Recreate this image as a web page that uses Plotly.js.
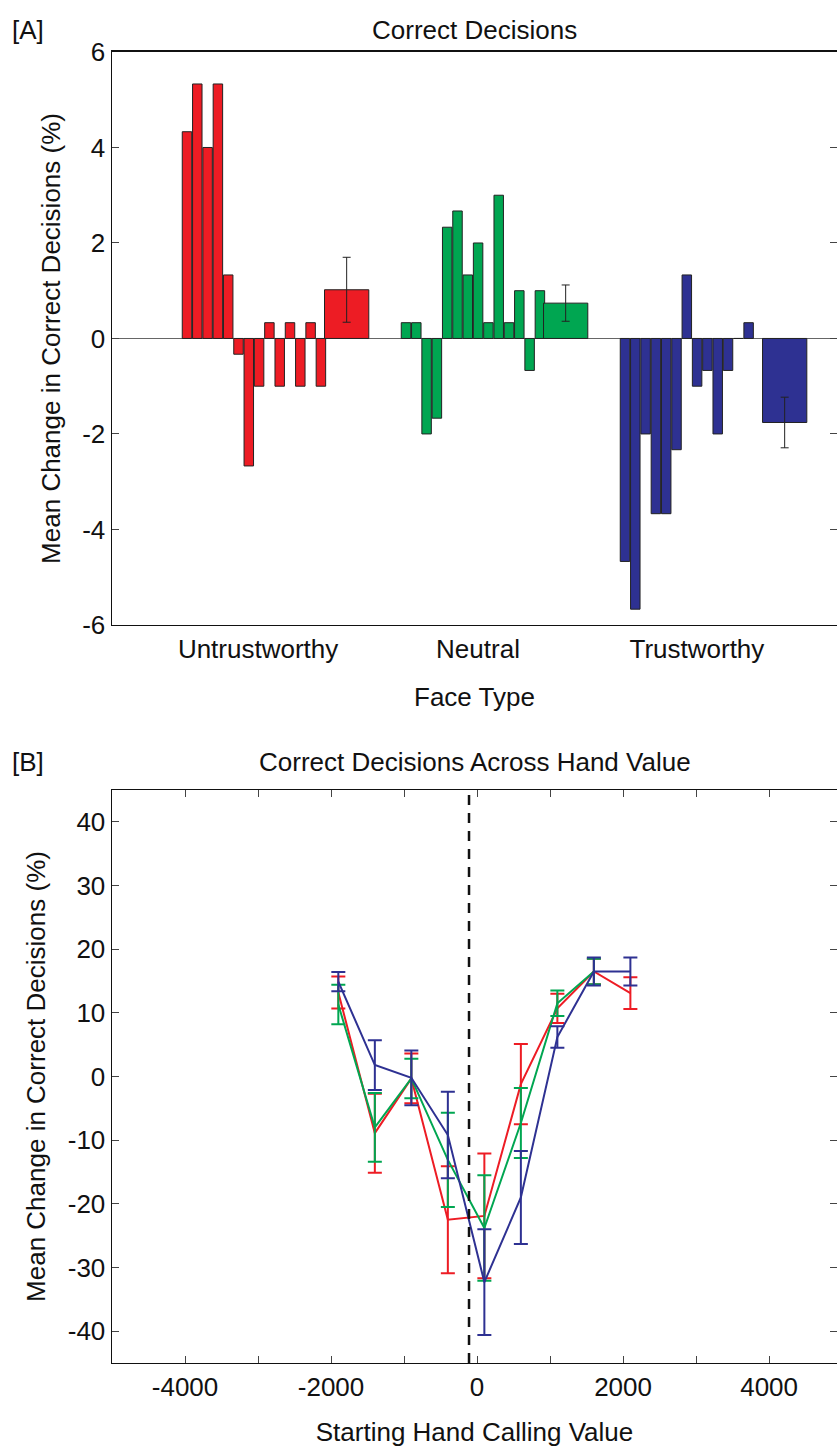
<!DOCTYPE html>
<html>
<head>
<meta charset="utf-8">
<script src="https://cdn.plot.ly/plotly-3.0.1.min.js"></script>
<style>body{margin:0;background:#fff}#plot{width:837px;height:1452px}</style>
</head>
<body>
<div id="plot"></div>
<script>
// panel A: per-participant change, then group mean with error
const groups = ["Untrustworthy", "Neutral", "Trustworthy"];
const colors = ["#ED1C24", "#00A651", "#2E3192"];
const redBars = [4.33, 5.33, 4, 5.33, 1.33, -0.33, -2.67, -1, 0.33, -1, 0.33, -1, 0.33, -1];
const greenBars = [0.33, 0.33, -2, -1.67, 2.33, 2.67, 1.33, 2, 0.33, 3, 0.33, 1, -0.67, 1];
const blueBars = [-4.67, -5.67, -2, -3.67, -3.67, -2.33, 1.33, -1, -0.67, -2, -0.67, 0, 0.33];
const groupMeans = [1.02, 0.74, -1.76];
const groupErr = [0.68, 0.38, 0.53];
const yTicksA = [-6, -4, -2, 0, 2, 4, 6];

// panel B: change across hand value
const handX = [-1900, -1400, -900, -400, 100, 600, 1100, 1600, 2100];
const redY = [13.2, -8.9, -0.3, -22.5, -21.9, -1.2, 10.7, 16.5, 13.1];
const redErr = [2.5, 6.2, 3.9, 8.4, 9.8, 6.3, 2.3, 2.0, 2.5];
const greenY = [11.3, -8.0, -0.3, -13.1, -23.8, -7.3, 11.5, 16.5];
const greenErr = [3.1, 5.4, 3.1, 7.4, 8.3, 5.5, 2.0, 2.0];
const blueY = [14.9, 1.8, -0.2, -9.2, -32.3, -19.0, 6.2, 16.5, 16.5];
const blueErr = [1.5, 3.9, 4.3, 6.8, 8.3, 7.3, 1.7, 2.2, 2.2];
const yTicksB = [-40, -30, -20, -10, 0, 10, 20, 30, 40];
const dashX = -110;

const perGroup = 21.26, meanOffset = 15.5;
const allBars = [redBars, greenBars, blueBars];
const traces = [];
allBars.forEach((vals, g) => {
  traces.push({
    type: "bar", x: vals.map((_, i) => g * perGroup + i), y: vals,
    width: 0.92, marker: {color: colors[g], line: {color: "#222", width: 1}},
    xaxis: "x", yaxis: "y", showlegend: false, hoverinfo: "y"
  });
  traces.push({
    type: "bar", x: [g * perGroup + meanOffset], y: [groupMeans[g]],
    width: 4.3, marker: {color: colors[g], line: {color: "#222", width: 1}},
    error_y: {type: "data", array: [groupErr[g]], color: "#222", thickness: 1, width: 4},
    xaxis: "x", yaxis: "y", showlegend: false
  });
});

const lineSets = [[redY, redErr], [greenY, greenErr], [blueY, blueErr]];
lineSets.forEach(([ys, es], g) => {
  traces.push({
    type: "scatter", mode: "lines", x: handX.slice(0, ys.length), y: ys,
    line: {color: colors[g], width: 2},
    error_y: {type: "data", array: es, color: colors[g], thickness: 2, width: 7},
    xaxis: "x2", yaxis: "y2", showlegend: false
  });
});

const font = {family: "Liberation Sans, Arial, sans-serif", size: 26, color: "#111"};
const minorX = [];
for (let v = -5000; v <= 5000; v += 1000) minorX.push(v);
const lbl = v => String(v); // plain hyphen minus like the original

const layout = {
  width: 837, height: 1452,
  margin: {l: 112, r: 0, t: 0, b: 0},
  paper_bgcolor: "#fff", plot_bgcolor: "#fff",
  font: font, bargap: 0, barmode: "overlay",
  xaxis: {
    domain: [0, 1], range: [-7.28, 63.1], anchor: "y",
    tickvals: [6.9, 28.25, 49.5], ticktext: groups, ticks: "",
    showline: true, mirror: true, linecolor: "#111", linewidth: 1.5,
    showgrid: false, zeroline: false, tickfont: font
  },
  yaxis: {
    domain: [0.5696, 0.9642], range: [-6, 6], anchor: "x",
    tickvals: yTicksA, ticktext: yTicksA.map(lbl), ticks: "inside", ticklen: 7,
    showline: true, mirror: "ticks", linecolor: "#111", linewidth: 1.5,
    showgrid: false, zeroline: true, zerolinecolor: "#666", zerolinewidth: 1,
    tickfont: font,
    title: {text: "Mean Change in Correct Decisions (%)", font: font, standoff: 14}
  },
  xaxis2: {
    domain: [0, 1], range: [-5000, 4930], anchor: "y2",
    tickvals: minorX, ticktext: minorX.map(v => v % 2000 === 0 ? lbl(v) : ""),
    ticks: "inside", ticklen: 7,
    showline: true, mirror: "ticks", linecolor: "#111", linewidth: 1.5,
    showgrid: false, zeroline: false, tickfont: font,
    title: {text: "Starting Hand Calling Value", font: font, standoff: 22}
  },
  yaxis2: {
    domain: [0.0613, 0.4559], range: [-45, 45], anchor: "x2",
    tickvals: yTicksB, ticktext: yTicksB.map(lbl), ticks: "inside", ticklen: 7,
    showline: true, mirror: "ticks", linecolor: "#111", linewidth: 1.5,
    showgrid: false, zeroline: false, tickfont: font,
    title: {text: "Mean Change in Correct Decisions (%)", font: font, standoff: 14}
  },
  shapes: [{
    type: "line", xref: "x2", yref: "y2 domain", x0: dashX, x1: dashX, y0: 0, y1: 1,
    line: {color: "#111", width: 2.5, dash: "10px,8px"}
  }],
  annotations: [
    {text: "Correct Decisions", x: 0.5, y: 1 - 30 / 1452},
    {text: "[A]", x: -102 / 725, xanchor: "left", y: 1 - 30 / 1452},
    {text: "Face Type", x: 0.5, y: 1 - 697 / 1452},
    {text: "Correct Decisions Across Hand Value", x: 0.5, y: 1 - 762 / 1452},
    {text: "[B]", x: -102 / 725, xanchor: "left", y: 1 - 762 / 1452}
  ].map(a => Object.assign({xref: "paper", yref: "paper", yanchor: "middle",
                            showarrow: false, font: font}, a))
};

Plotly.newPlot("plot", traces, layout, {staticPlot: true});
</script>
</body>
</html>
